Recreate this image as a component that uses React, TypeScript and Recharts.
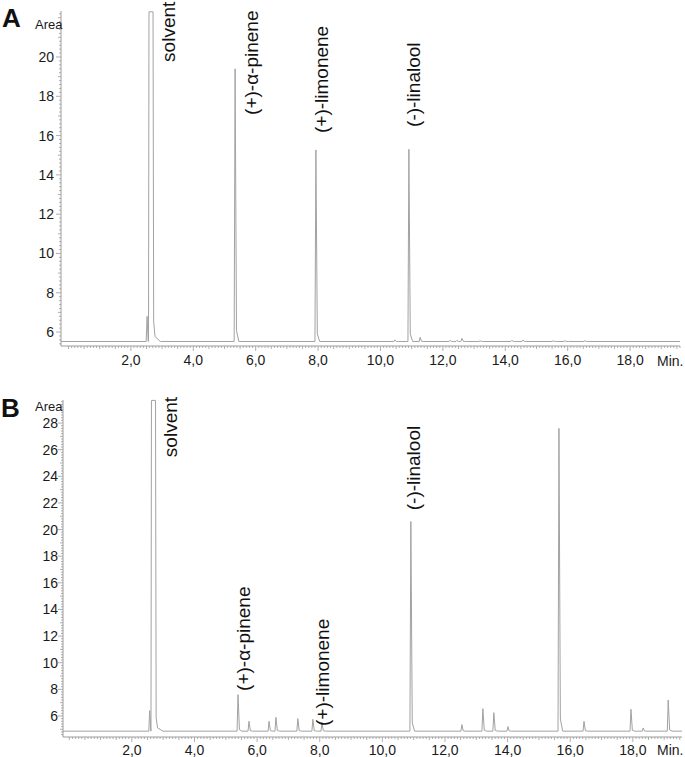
import React from 'react';
import { LineChart, Line, XAxis, YAxis, ReferenceDot } from 'recharts';

const FONT = '"Liberation Sans", Arial, Helvetica, sans-serif';
const TRACE = '#a2a2a2';
const AXIS = '#9c9c9c';

// retention time (min) tick labels, shared by both panels
const minuteTicks = [2, 4, 6, 8, 10, 12, 14, 16, 18];

// ---- panel A ----
const areaTicksA = [6, 8, 10, 12, 14, 16, 18, 20];
const xDomainA: [number, number] = [-0.24, 19.6];
const yDomainA: [number, number] = [5.29, 22.34];
const baselineA = 5.52;
const peakTimesA = [2.52, 2.645, 5.34, 7.93, 10.46, 10.91, 11.27, 12.23, 12.45, 12.61, 13.19, 14.21, 14.57, 15.53, 15.91, 16.55];
const peakHeightsA = [6.8, 22.3, 19.4, 15.27, 5.6, 15.3, 5.73, 5.58, 5.58, 5.68, 5.56, 5.58, 5.6, 5.56, 5.56, 5.56];
const labelsA = ['solvent', '(+)-α-pinene', '(+)-limonene', '(-)-linalool'];
const labelTimesA = [3.41, 6.07, 8.32, 11.27];
const labelAreasA = [19.75, 17.05, 16.13, 16.44];

// ---- panel B ----
const areaTicksB = [6, 8, 10, 12, 14, 16, 18, 20, 22, 24, 26, 28];
const xDomainB: [number, number] = [-0.2, 19.57];
const yDomainB: [number, number] = [4.42, 29.73];
const baselineB = 4.86;
const peakTimesB = [2.57, 2.69, 5.39, 5.74, 6.38, 6.6, 7.3, 7.78, 8.07, 10.91, 12.54, 13.21, 13.56, 14.01, 15.64, 16.44, 17.94, 18.33, 19.13];
const peakHeightsB = [6.4, 29.7, 7.6, 5.6, 5.6, 5.9, 5.8, 5.75, 5.5, 20.6, 5.35, 6.55, 6.25, 5.2, 27.6, 5.6, 6.5, 5.1, 7.2];
const labelsB = ['solvent', '(+)-α-pinene', '(+)-limonene', '(-)-linalool'];
const labelTimesB = [3.44, 5.77, 8.29, 11.2];
const labelAreasB = [25.44, 7.88, 5.25, 21.45];

// turn the peak list into a polyline: sharp rise, small tail, saturated solvent gets a flat top
function buildTrace(times: number[], heights: number[], base: number, xDom: [number, number], yMax: number) {
  const pts: { t: number; v: number }[] = [{ t: xDom[0], v: base }];
  times.forEach((t, i) => {
    const h = heights[i];
    const next = i + 1 < times.length ? times[i + 1] : xDom[1];
    if (h >= yMax - 0.1) {
      pts.push(
        { t: t - 0.08, v: base },
        { t: t - 0.065, v: h },
        { t: t + 0.065, v: h },
        { t: t + 0.085, v: base + 1.0 },
        { t: t + 0.13, v: base + 0.25 },
        { t: t + 0.3, v: base }
      );
    } else {
      pts.push({ t: t - 0.03, v: base }, { t, v: h });
      if (next - t > 0.15) {
        pts.push({ t: t + 0.045, v: base + (h - base) * 0.04 }, { t: t + 0.12, v: base });
      } else {
        pts.push({ t: t + 0.035, v: base });
      }
    }
  });
  pts.push({ t: xDom[1], v: base });
  return pts;
}

function range(from: number, to: number, step: number) {
  const out: number[] = [];
  for (let i = Math.ceil(from / step); i * step <= to; i++) out.push(Math.round(i * step * 100) / 100);
  return out;
}

const traceA = buildTrace(peakTimesA, peakHeightsA, baselineA, xDomainA, yDomainA[1]);
const traceB = buildTrace(peakTimesB, peakHeightsB, baselineB, xDomainB, yDomainB[1]);

const isOn = (v: number, list: number[]) => list.some((m) => Math.abs(m - v) < 1e-6);

const XTick = ({ x, y, payload, labelDy }: any) => {
  const v = payload.value;
  const major = isOn(v, minuteTicks);
  const half = Math.abs(v * 2 - Math.round(v * 2)) < 1e-6;
  const len = major ? 5 : half ? 3 : 2;
  return (
    <g>
      <line x1={x} x2={x} y1={y} y2={y + len} stroke={AXIS} strokeWidth={0.8} />
      {major && (
        <text x={x} y={y + labelDy} textAnchor="middle" fontSize={14} fontFamily={FONT} fill="#1a1a1a">
          {v.toFixed(1).replace('.', ',')}
        </text>
      )}
    </g>
  );
};

const YTick = ({ x, y, payload, majors, gap }: any) => {
  const v = payload.value;
  const major = isOn(v, majors);
  const whole = Math.abs(v - Math.round(v)) < 1e-6;
  const len = major ? 5 : whole ? 3 : 2;
  return (
    <g>
      <line x1={x - len} x2={x} y1={y} y2={y} stroke={AXIS} strokeWidth={0.8} />
      {major && (
        <text x={x - gap} y={y} dy={5} textAnchor="end" fontSize={14} fontFamily={FONT} fill="#1a1a1a">
          {v}
        </text>
      )}
    </g>
  );
};

const peakLabel = (text: string) => (props: any) => (
  <text
    x={props.cx}
    y={props.cy}
    transform={`rotate(-90 ${props.cx} ${props.cy})`}
    fontSize={19}
    fontFamily={FONT}
    fill="#111"
  >
    {text}
  </text>
);

function Panel({ data, xDom, yDom, majors, labels, labelTimes, labelAreas, width, height, margin, xHeight, yWidth, labelDy, gap }: any) {
  return (
    <LineChart width={width} height={height} data={data} margin={margin}>
      <XAxis
        type="number"
        dataKey="t"
        domain={xDom}
        ticks={range(0, xDom[1], 0.1)}
        interval={0}
        height={xHeight}
        tickSize={0}
        tickMargin={0}
        tickLine={false}
        axisLine={{ stroke: AXIS, strokeWidth: 1 }}
        tick={<XTick labelDy={labelDy} />}
      />
      <YAxis
        type="number"
        domain={yDom}
        ticks={range(yDom[0], yDom[1], 0.2)}
        interval={0}
        width={yWidth}
        tickSize={0}
        tickMargin={0}
        tickLine={false}
        axisLine={{ stroke: AXIS, strokeWidth: 1 }}
        tick={<YTick majors={majors} gap={gap} />}
      />
      <Line type="linear" dataKey="v" stroke={TRACE} strokeWidth={1} dot={false} activeDot={false} isAnimationActive={false} />
      {labels.map((name: string, i: number) => (
        <ReferenceDot key={name} x={labelTimes[i]} y={labelAreas[i]} r={0} ifOverflow="visible" shape={peakLabel(name)} />
      ))}
    </LineChart>
  );
}

export default function App() {
  return (
    <div style={{ position: 'absolute', left: 0, top: 0, width: 685, height: 757, background: '#fff', fontFamily: FONT }}>
      <div style={{ position: 'absolute', left: 0, top: 0 }}>
        <Panel
          data={traceA}
          xDom={xDomainA}
          yDom={yDomainA}
          majors={areaTicksA}
          labels={labelsA}
          labelTimes={labelTimesA}
          labelAreas={labelAreasA}
          width={685}
          height={380}
          margin={{ top: 11, right: 5, bottom: 0, left: 0 }}
          xHeight={34}
          yWidth={61}
          labelDy={19}
          gap={7}
        />
      </div>
      <div style={{ position: 'absolute', left: 0, top: 385 }}>
        <Panel
          data={traceB}
          xDom={xDomainB}
          yDom={yDomainB}
          majors={areaTicksB}
          labels={labelsB}
          labelTimes={labelTimesB}
          labelAreas={labelAreasB}
          width={685}
          height={372}
          margin={{ top: 15, right: 3, bottom: 0, left: 0 }}
          xHeight={20}
          yWidth={63}
          labelDy={18}
          gap={5}
        />
      </div>
      <svg width={685} height={757} style={{ position: 'absolute', left: 0, top: 0, pointerEvents: 'none' }}>
        <text x={2} y={27} fontSize={26} fontWeight="bold" fontFamily={FONT} fill="#111">A</text>
        <text x={1} y={417} fontSize={26} fontWeight="bold" fontFamily={FONT} fill="#111">B</text>
        <text x={35} y={29} fontSize={13} fontFamily={FONT} fill="#1a1a1a">Area</text>
        <text x={35} y={411} fontSize={13} fontFamily={FONT} fill="#1a1a1a">Area</text>
        <text x={657} y={366} fontSize={14} fontFamily={FONT} fill="#1a1a1a">Min.</text>
        <text x={657} y={755} fontSize={14} fontFamily={FONT} fill="#1a1a1a">Min.</text>
      </svg>
    </div>
  );
}
